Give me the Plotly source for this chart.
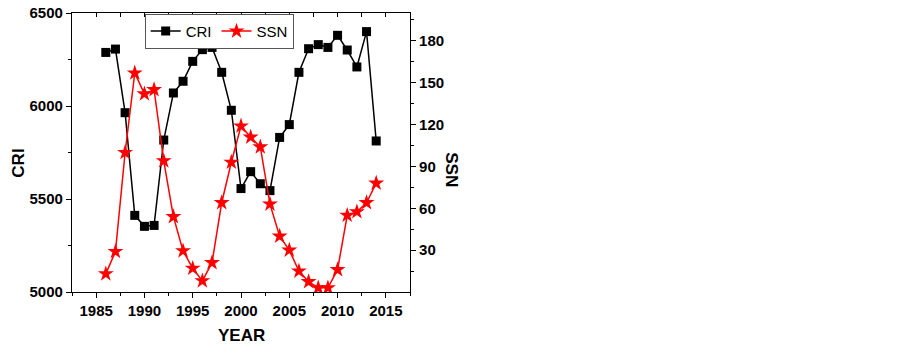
import plotly.graph_objects as go

years = list(range(1986, 2015))
cri = [6288, 6306, 5964, 5412, 5353, 5358, 5817, 6070, 6133, 6240,
       6303, 6315, 6181, 5977, 5556, 5647, 5582, 5545, 5831, 5900,
       6181, 6308, 6330, 6315, 6380, 6301, 6210, 6400, 5812]
ssn = [13, 29, 100, 157, 142, 145, 94, 54, 29.5, 17,
       8, 21, 64, 93, 119, 111, 104, 63, 40, 30,
       15, 7.4, 3, 3, 16, 55, 57.5, 64, 78]

x_ticks = [1985, 1990, 1995, 2000, 2005, 2010, 2015]
cri_ticks = [5000, 5500, 6000, 6500]
ssn_ticks = [30, 60, 90, 120, 150, 180]

font = "Liberation Sans, Arial, sans-serif"

fig = go.Figure()
fig.add_trace(go.Scatter(
    x=years, y=cri, name="CRI", mode="lines+markers",
    line=dict(color="black", width=1.5),
    marker=dict(symbol="square", size=9, color="black"),
    yaxis="y"))
fig.add_trace(go.Scatter(
    x=years, y=ssn, name="SSN", mode="lines+markers",
    line=dict(color="#ff0000", width=1.5),
    marker=dict(symbol="star", size=12, color="#ff0000", line=dict(width=0)),
    yaxis="y2"))
fig.add_trace(go.Scatter(x=[], y=[], xaxis="x2", showlegend=False, hoverinfo="skip"))

axis_common = dict(
    showgrid=False, zeroline=False, showline=True, linecolor="black", linewidth=1.2,
    ticks="outside", tickcolor="black", ticklen=5, tickwidth=1.2, automargin=False,
    ticklabeloverflow="allow",
    tickfont=dict(family=font, size=15, color="black", weight="bold"),
)
title_font = dict(family=font, size=17, color="black", weight="bold")
minor_x = [1982.5 + 2.5 * i for i in range(15)]

fig.update_layout(
    width=903, height=348,
    margin=dict(l=72, r=493, t=13, b=56),
    paper_bgcolor="white", plot_bgcolor="white",
    showlegend=True,
    legend=dict(
        x=0.215, y=0.997, xanchor="left", yanchor="top",
        orientation="h", bordercolor="#555555", borderwidth=1,
        bgcolor="white", font=dict(family=font, size=15, color="black"),
        itemwidth=30, tracegroupgap=0,
    ),
    xaxis=dict(
        range=[1982.5, 2017.5], tickvals=x_ticks,
        minor=dict(tickvals=minor_x, ticks="outside", ticklen=3, tickcolor="black"),
        **axis_common,
    ),
    xaxis2=dict(
        range=[1982.5, 2017.5], overlaying="x", side="top", showgrid=False, zeroline=False,
        showline=True, linecolor="black", linewidth=1.2, ticks="inside", ticklen=4,
        tickcolor="black", tickvals=minor_x, showticklabels=False,
    ),
    yaxis=dict(
        range=[5000, 6500], tickvals=cri_ticks,
        minor=dict(tickvals=[5250, 5750, 6250], ticks="outside", ticklen=3, tickcolor="black"),
        **axis_common,
    ),
    yaxis2=dict(
        range=[0, 200], tickvals=ssn_ticks, overlaying="y", side="right",
        minor=dict(tickvals=[15, 45, 75, 105, 135, 165, 195], ticks="outside", ticklen=3, tickcolor="black"),
        **axis_common,
    ),
    annotations=[
        dict(text="YEAR", xref="paper", yref="paper", x=0.5, y=0, yshift=-43,
             xanchor="center", yanchor="middle", showarrow=False, font=title_font),
        dict(text="CRI", xref="paper", yref="paper", x=0, y=0.46, xshift=-53,
             xanchor="center", yanchor="middle", showarrow=False, textangle=-90, font=title_font),
        dict(text="SSN", xref="paper", yref="paper", x=1, y=0.44, xshift=42,
             xanchor="center", yanchor="middle", showarrow=False, textangle=90, font=title_font),
    ],
)

fig.write_html("out.html", post_script="document.body.style.margin='0';",
               config={"displayModeBar": False})
